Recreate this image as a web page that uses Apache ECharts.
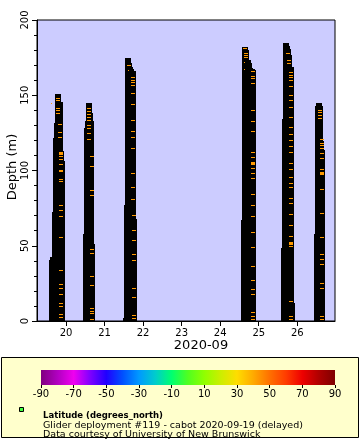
<!DOCTYPE html>
<html><head><meta charset="utf-8">
<script src="https://cdn.jsdelivr.net/npm/echarts@6/dist/echarts.min.js"></script>
<style>html,body{margin:0;padding:0;background:#fff}#c{width:360px;height:440px}</style>
</head><body><div id="c"></div>
<script>
// tick labels
const xTicks = [20, 21, 22, 23, 24, 25, 26];
const cbTicks = [-90, -70, -50, -30, -10, 10, 30, 50, 70, 90];
// colour bar stops [value, colour]
const cbStops = [[-90,'#800080'],[-80,'#b000c0'],[-70,'#f000f0'],[-60,'#8000ff'],[-50,'#2000ff'],[-40,'#0050ff'],[-30,'#0099ff'],[-20,'#00cccc'],[-10,'#00ff70'],[0,'#50ff20'],[10,'#90ff00'],[20,'#ccee00'],[30,'#ffdd00'],[40,'#ffaa00'],[50,'#ff7000'],[60,'#ff3c00'],[70,'#ee0000'],[80,'#b00000'],[90,'#7f0000']];

// profile envelopes: [day start, day end, max depth (m)]
const col1 = [[19.714,19.870,150.8],[19.714,19.914,145.5],[19.688,19.914,131.6],[19.662,19.914,121.6],[19.662,19.940,113.0],[19.662,19.966,106.3],[19.644,19.966,72.4],[19.584,19.966,42.5],[19.558,19.966,40.5]];
const col2 = [[20.519,20.675,144.9],[20.519,20.701,138.2],[20.494,20.727,132.9],[20.468,20.727,128.2],[20.442,20.727,57.8],[20.442,20.753,51.2]];
const col3 = [[21.532,21.688,174.8],[21.532,21.714,171.4],[21.532,21.740,168.8],[21.532,21.766,167.2],[21.532,21.818,165.9],[21.506,21.818,77.4],[21.506,21.844,68.1],[21.481,21.844,2.3]];
const col4 = [[24.571,24.727,182.1],[24.571,24.753,180.1],[24.571,24.805,173.4],[24.571,24.831,171.4],[24.571,24.857,168.1],[24.571,24.909,167.4],[24.571,24.935,166.6],[24.545,24.935,66.8]];
const col5 = [[25.636,25.792,184.7],[25.636,25.818,182.7],[25.636,25.844,180.7],[25.636,25.870,176.7],[25.636,25.922,168.8],[25.610,25.922,134.2],[25.584,25.922,48.5],[25.584,25.948,12.0]];
const col6 = [[26.494,26.649,144.9],[26.468,26.675,142.9],[26.468,26.701,119.6],[26.468,26.727,113.6],[26.442,26.727,57.8]];

// visible latitude-coloured marks: [day, depth (m)]
const dash1 = [[19.792,148.0],[19.792,146.4],[19.792,141.3],[19.792,140.1],[19.792,138.0],[19.844,130.7],[19.844,125.4],[19.844,122.1],[19.883,109.6],[19.883,107.6],[19.883,103.7],[19.883,100.3],[19.883,99.2],[19.883,93.7],[19.883,92.6],[19.883,76.7],[19.883,73.3],[19.883,69.4],[19.883,55.5],[19.883,33.6],[19.883,24.3],[19.883,21.3],[19.883,17.9],[19.883,11.3],[19.883,9.8],[19.883,4.0],[19.883,2.5]];
const dash2 = [[20.603,141.3],[20.603,139.5],[20.603,137.3],[20.603,135.3],[20.603,133.1],[20.603,129.6],[20.603,128.0],[20.603,124.7],[20.603,120.7],[20.668,109.2],[20.668,102.5],[20.668,86.6],[20.668,83.3],[20.668,47.6],[20.668,45.0],[20.668,29.7],[20.668,23.7],[20.668,8.4],[20.668,6.6],[20.668,4.7],[20.668,1.3]];
const dash3 = [[21.636,169.9],[21.740,161.9],[21.740,159.9],[21.740,158.6],[21.740,156.6],[21.740,151.3],[21.740,144.0],[21.740,133.4],[21.740,126.0],[21.740,122.1],[21.740,114.8],[21.740,98.1],[21.740,88.8],[21.740,80.9],[21.766,70.2],[21.766,60.3],[21.766,53.6],[21.766,44.3],[21.766,40.3],[21.766,21.7],[21.766,15.8],[21.766,3.8],[21.766,1.8]];
const dash4 = [[24.649,181.2],[24.675,177.9],[24.675,176.5],[24.675,175.2],[24.857,165.9],[24.857,162.6],[24.857,161.3],[24.857,157.9],[24.857,140.0],[24.857,132.7],[24.857,126.0],[24.857,112.1],[24.857,108.8],[24.857,101.5],[24.857,98.1],[24.857,94.8],[24.857,84.2],[24.857,76.9],[24.857,69.6],[24.857,58.9],[24.857,49.0],[24.857,36.3],[24.857,27.0],[24.857,21.1],[24.857,17.7],[24.857,5.8],[24.857,3.1],[24.857,1.1]];
const dash5 = [[25.766,177.9],[25.792,173.2],[25.792,171.2],[25.844,165.2],[25.844,163.3],[25.844,161.9],[25.844,159.9],[25.844,155.9],[25.844,150.0],[25.844,146.6],[25.844,142.0],[25.844,135.3],[25.844,128.7],[25.844,124.1],[25.844,120.1],[25.844,116.1],[25.844,112.1],[25.844,104.8],[25.844,100.8],[25.844,95.5],[25.844,91.5],[25.844,88.8],[25.844,81.5],[25.844,78.2],[25.844,70.9],[25.844,63.6],[25.844,56.3],[25.844,49.6],[25.844,13.1],[25.844,3.1],[25.844,1.1]];
const dash6 = [[26.597,140.0],[26.597,138.4],[26.597,136.7],[26.597,134.7],[26.649,120.7],[26.649,118.1],[26.649,116.3],[26.649,114.8],[26.649,111.4],[26.649,108.1],[26.649,100.8],[26.649,87.5],[26.649,71.6],[26.649,55.6],[26.649,44.3],[26.649,41.0],[26.649,37.7],[26.649,25.0],[26.649,21.7],[26.649,3.1],[26.649,1.1]];
const dotMarks = [[19.623,144.7],[21.623,166.6],[24.623,171.9],[24.623,167.2]];
const bigMarks = [[19.883,111.4],[24.857,104.8],[25.844,51.6],[26.649,98.1]];

const FONT = 'DejaVu Sans';
const chart = echarts.init(document.getElementById('c'), null, {renderer: 'canvas'});

function renderCol(params, api) {
  const a = api.coord([api.value(0), api.value(2)]);
  const b = api.coord([api.value(1), 0]);
  const x0 = Math.round(a[0]), x1 = Math.round(b[0]);
  const y0 = Math.round(a[1]), y1 = Math.round(b[1]);
  return {type: 'rect', shape: {x: x0, y: y0, width: x1 - x0, height: y1 - y0}, style: {fill: '#000'}};
}
function renderMark(w, h) {
  return function (params, api) {
    const p = api.coord([api.value(0), api.value(1)]);
    return {type: 'rect', shape: {x: Math.round(p[0] - w / 2), y: Math.round(p[1] - h / 2), width: w, height: h}, style: {fill: '#ff9900'}};
  };
}

const cols = [].concat(col1, col2, col3, col4, col5, col6);
const dashes = [].concat(dash1, dash2, dash3, dash4, dash5, dash6);

chart.setOption({
  animation: false,
  backgroundColor: '#ffffff',
  grid: [
    {left: 37, top: 20, width: 298, height: 301, show: true, backgroundColor: '#ccccff', borderColor: '#000', borderWidth: 1},
    {left: 41, top: 370, width: 294, height: 15, show: true, borderWidth: 0,
     backgroundColor: new echarts.graphic.LinearGradient(0, 0, 1, 0, cbStops.map(s => ({offset: (s[0] + 90) / 180, color: s[1]})))}
  ],
  xAxis: [
    {gridIndex: 0, type: 'value', min: 19.248, max: 26.978,
     axisLine: {show: true, lineStyle: {color: '#000', width: 1}},
     axisTick: {show: true, length: 5, customValues: xTicks, lineStyle: {color: '#000'}},
     axisLabel: {customValues: xTicks, color: '#000', fontFamily: FONT, fontSize: 10, margin: 7},
     splitLine: {show: false}},
    {gridIndex: 1, type: 'value', min: -90, max: 90,
     axisLine: {show: false},
     axisTick: {show: true, length: 3, customValues: cbTicks, lineStyle: {color: '#000'}},
     axisLabel: {customValues: cbTicks, color: '#000', fontFamily: FONT, fontSize: 10, margin: 4},
     splitLine: {show: false}}
  ],
  yAxis: [
    {gridIndex: 0, type: 'value', min: 0, max: 200, interval: 50,
     axisLine: {show: true, lineStyle: {color: '#000', width: 1}},
     axisTick: {show: true, length: 5, lineStyle: {color: '#000'}},
     minorTick: {show: true, splitNumber: 5, length: 3, lineStyle: {color: '#000'}},
     axisLabel: {rotate: 90, color: '#000', fontFamily: FONT, fontSize: 10, margin: 7},
     splitLine: {show: false}},
    {gridIndex: 1, type: 'value', show: false, min: 0, max: 1}
  ],
  graphic: [
    {type: 'text', x: 12.5, y: 167, rotation: Math.PI / 2,
     style: {text: 'Depth (m)', font: '13px "DejaVu Sans"', fill: '#000', align: 'center', verticalAlign: 'middle'}},
    {type: 'text', x: 201, y: 346,
     style: {text: '2020-09', font: '13px "DejaVu Sans"', fill: '#000', align: 'center', verticalAlign: 'middle'}},
    {type: 'rect', z: -10, shape: {x: 1.5, y: 357.5, width: 357, height: 80}, style: {fill: '#ffffcc', stroke: '#000', lineWidth: 1}},
    {type: 'rect', shape: {x: 19.5, y: 407.5, width: 4, height: 4}, style: {fill: '#40ff40', stroke: '#000', lineWidth: 1}},
    {type: 'text', x: 43, y: 411.5, style: {text: 'Latitude (degrees_north)', font: 'bold 8.5px "DejaVu Sans"', fill: '#000', verticalAlign: 'alphabetic'}},
    {type: 'text', x: 43, y: 420.5, style: {text: 'Glider deployment #119 - cabot 2020-09-19 (delayed)', font: '9.5px "DejaVu Sans"', fill: '#000', verticalAlign: 'alphabetic'}},
    {type: 'text', x: 43, y: 429.5, style: {text: 'Data courtesy of University of New Brunswick', font: '9.5px "DejaVu Sans"', fill: '#000', verticalAlign: 'alphabetic'}}
  ],
  series: [
    {type: 'custom', xAxisIndex: 0, yAxisIndex: 0, data: cols, renderItem: renderCol, clip: true, encode: {x: [0, 1], y: 2}},
    {type: 'custom', xAxisIndex: 0, yAxisIndex: 0, data: dashes, renderItem: renderMark(4, 1), clip: true, encode: {x: 0, y: 1}},
    {type: 'custom', xAxisIndex: 0, yAxisIndex: 0, data: dotMarks, renderItem: renderMark(1, 1), clip: true, encode: {x: 0, y: 1}},
    {type: 'custom', xAxisIndex: 0, yAxisIndex: 0, data: bigMarks, renderItem: renderMark(4, 3), clip: true, encode: {x: 0, y: 1}}
  ]
});
</script></body></html>
